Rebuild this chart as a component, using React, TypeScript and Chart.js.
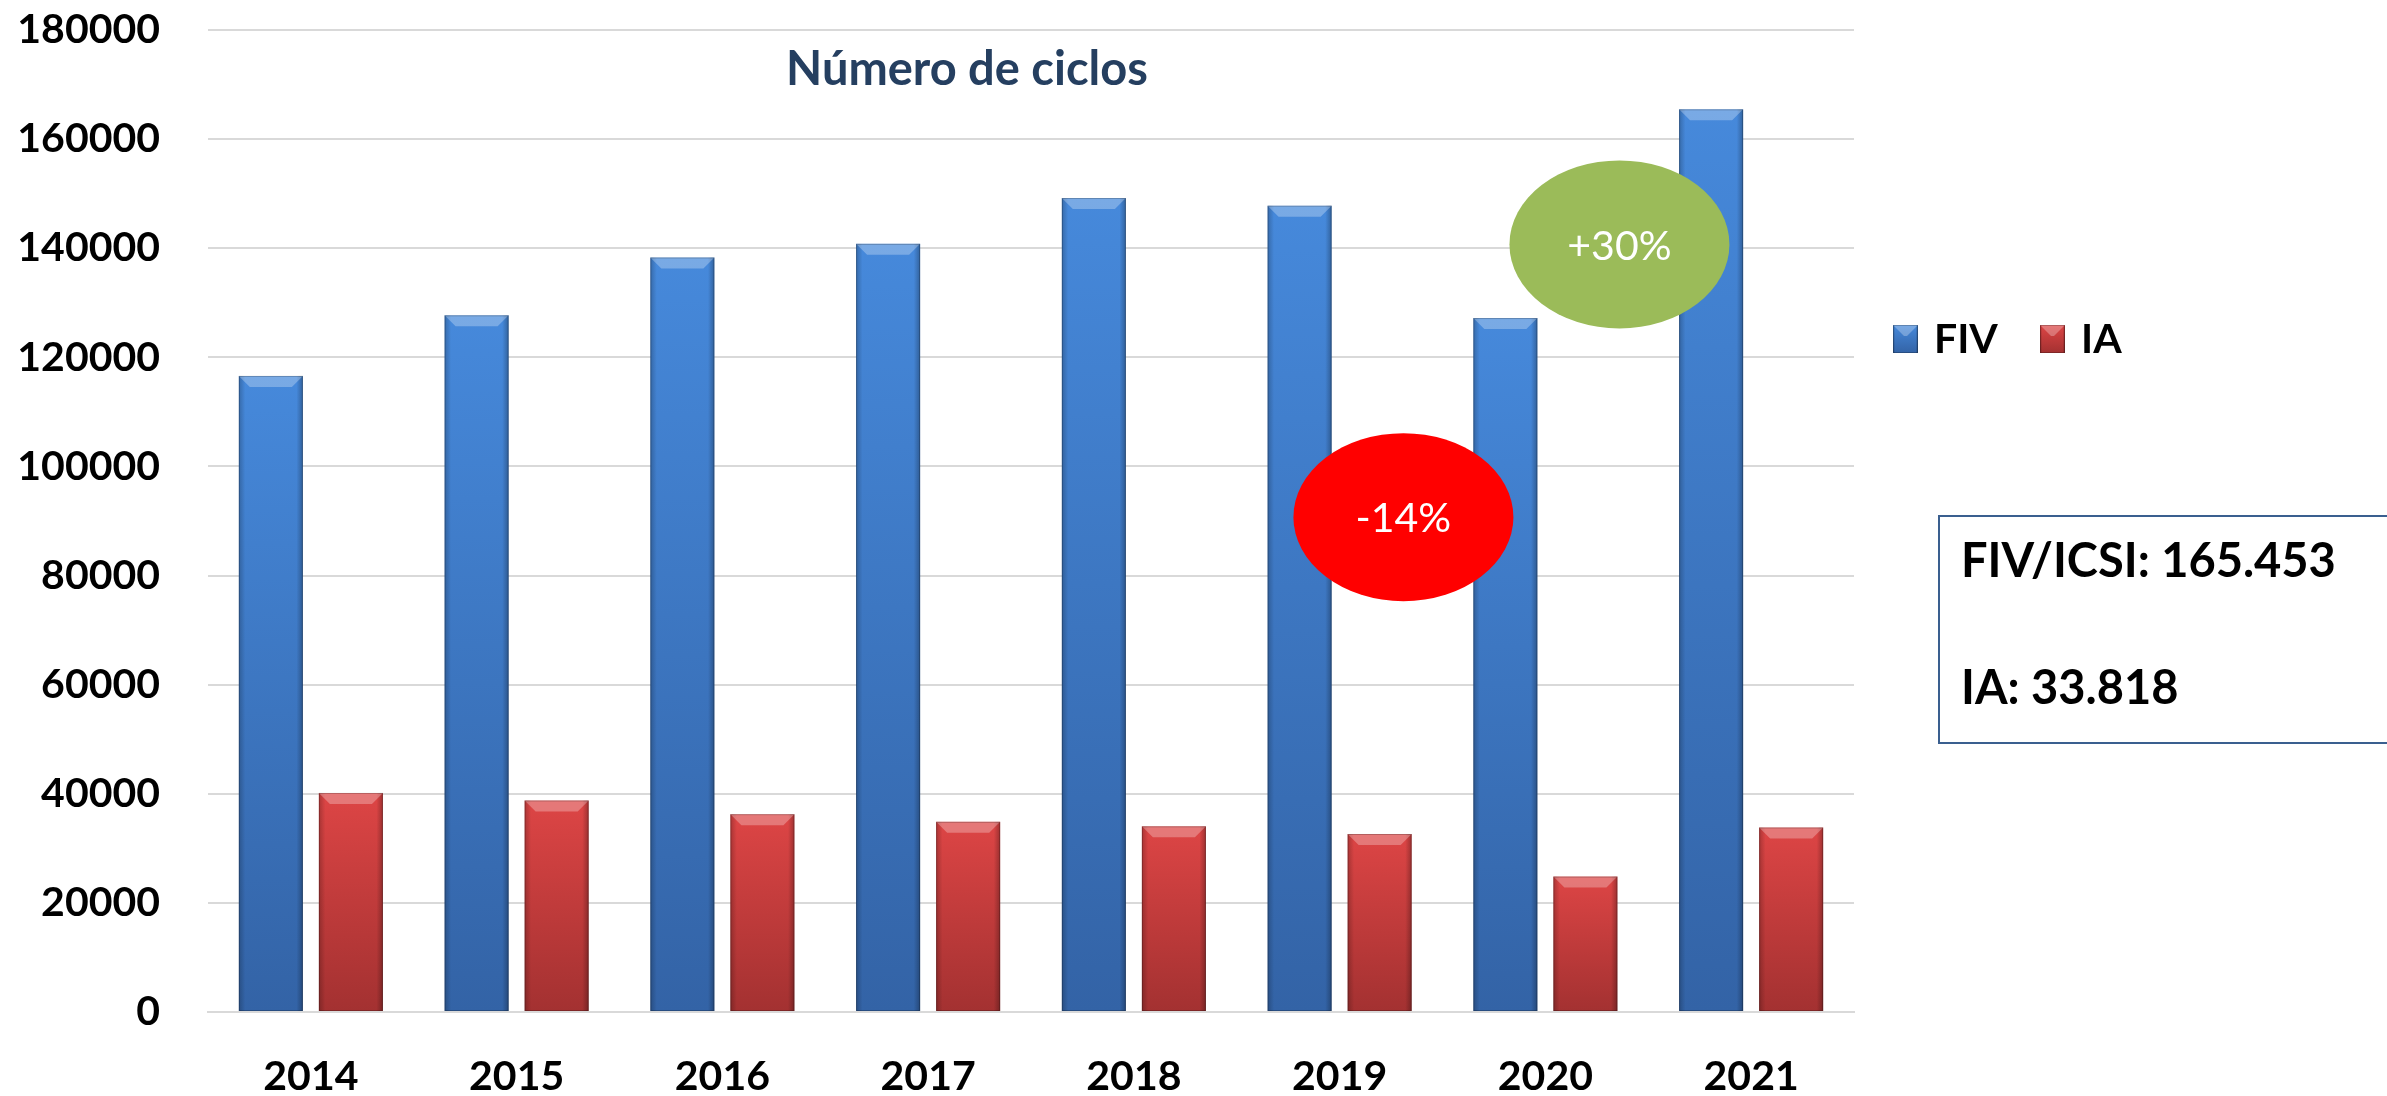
import React, { useEffect, useRef } from "react";
import { Chart, registerables } from "chart.js";

Chart.register(...registerables);

// ---- data ----
const categories = ["2014", "2015", "2016", "2017", "2018", "2019", "2020", "2021"];
const fivValues = [116600, 127700, 138300, 140800, 149200, 147800, 127200, 165453];
const iaValues = [40160, 38770, 36260, 34860, 34030, 32630, 24820, 33818];
const seriesNames = ["FIV", "IA"];
const yMax = 180000;
const yStep = 20000;
const chartTitle = "Número de ciclos";
const boxLines = ["FIV/ICSI: 165.453", "IA: 33.818"];
const bubbleLabels = ["-14%", "+30%"];

// ---- styling / annotation placement ----
const FONT = "Lato, 'Open Sans', sans-serif";
const blueTop = "#4689DB";
const blueBottom = "#3363A6";
const redTop = "#DD4545";
const redBottom = "#A33131";
const bubbles = [
  { text: bubbleLabels[0], idx: 5.31, val: 90700, rx: 110, ry: 84, color: "#FF0000" },
  { text: bubbleLabels[1], idx: 6.36, val: 140700, rx: 110, ry: 84, color: "#9BBB59" },
];

function barGradient(ctx: any, top: string, bottom: string) {
  const chart = ctx.chart;
  const y = chart.scales && chart.scales.y;
  if (!y || ctx.raw == null) return top;
  const y0 = y.getPixelForValue(ctx.raw);
  const y1 = y.getPixelForValue(0);
  if (!isFinite(y0) || !isFinite(y1) || y0 === y1) return top;
  const g = chart.ctx.createLinearGradient(0, y0, 0, y1);
  g.addColorStop(0, top);
  g.addColorStop(1, bottom);
  return g;
}

function drawBevelBar(c: CanvasRenderingContext2D, left: number, top: number, right: number, bottom: number) {
  const w = right - left;
  const b = Math.min(11, (bottom - top) / 2);
  c.save();
  const gl = c.createLinearGradient(left, 0, right, 0);
  gl.addColorStop(0, "rgba(0,0,0,0.22)");
  gl.addColorStop(0.1, "rgba(0,0,0,0.0)");
  gl.addColorStop(0.9, "rgba(0,0,0,0.0)");
  gl.addColorStop(1, "rgba(0,0,0,0.28)");
  c.fillStyle = gl;
  c.fillRect(left, top, w, bottom - top);
  c.beginPath();
  c.moveTo(left, top);
  c.lineTo(right, top);
  c.lineTo(right - b, top + b);
  c.lineTo(left + b, top + b);
  c.closePath();
  c.fillStyle = "rgba(255,255,255,0.28)";
  c.fill();
  c.strokeStyle = "rgba(0,0,0,0.22)";
  c.lineWidth = 1;
  c.strokeRect(left + 0.5, top + 0.5, w - 1, bottom - top - 1);
  c.restore();
}

const decorPlugin = {
  id: "decor",
  afterDatasetsDraw(chart: any) {
    const c: CanvasRenderingContext2D = chart.ctx;
    chart.data.datasets.forEach((_: any, di: number) => {
      const meta = chart.getDatasetMeta(di);
      meta.data.forEach((el: any) => {
        const p = el.getProps(["x", "y", "base", "width"], true);
        drawBevelBar(c, p.x - p.width / 2, p.y, p.x + p.width / 2, p.base);
      });
    });
  },
  afterDraw(chart: any) {
    const c: CanvasRenderingContext2D = chart.ctx;
    const xs = chart.scales.x;
    const ys = chart.scales.y;
    c.save();
    c.fillStyle = "#253F60";
    c.font = `bold 47px ${FONT}`;
    c.textAlign = "center";
    c.textBaseline = "alphabetic";
    c.fillText(chartTitle, 967, 85);

    bubbles.forEach((bb) => {
      const cx = xs.getPixelForValue(bb.idx);
      const cy = ys.getPixelForValue(bb.val);
      c.beginPath();
      c.ellipse(cx, cy, bb.rx, bb.ry, 0, 0, Math.PI * 2);
      c.fillStyle = bb.color;
      c.fill();
      c.fillStyle = "#FFFFFF";
      c.font = `41px ${FONT}`;
      c.textAlign = "center";
      c.textBaseline = "middle";
      c.fillText(bb.text, cx, cy + 2);
    });

    const legendItems = [
      { name: seriesNames[0], x: 1893, top: blueTop, bottom: blueBottom },
      { name: seriesNames[1], x: 2040, top: redTop, bottom: redBottom },
    ];
    legendItems.forEach((it) => {
      const bx = it.x, by = 325, bw = 25, bh = 28;
      const g = c.createLinearGradient(0, by, 0, by + bh);
      g.addColorStop(0, it.top);
      g.addColorStop(1, it.bottom);
      c.fillStyle = g;
      c.fillRect(bx, by, bw, bh);
      drawBevelBar(c, bx, by, bx + bw, by + bh);
      c.fillStyle = "#000000";
      c.font = `bold 41px ${FONT}`;
      c.textAlign = "left";
      c.textBaseline = "alphabetic";
      c.fillText(it.name, bx + 41, 353);
    });

    c.strokeStyle = "#3A5F8F";
    c.lineWidth = 2;
    c.strokeRect(1939, 516, 500, 227);
    c.fillStyle = "#000000";
    c.font = `bold 47px ${FONT}`;
    c.textAlign = "left";
    c.fillText(boxLines[0], 1961, 577);
    c.fillText(boxLines[1], 1961, 704);
    c.restore();
  },
};

export default function App() {
  const ref = useRef<HTMLCanvasElement>(null);
  useEffect(() => {
    if (!ref.current) return;
    const chart = new Chart(ref.current, {
      type: "bar",
      data: {
        labels: categories,
        datasets: [
          {
            label: seriesNames[0],
            data: fivValues,
            backgroundColor: (ctx: any) => barGradient(ctx, blueTop, blueBottom),
            categoryPercentage: 0.778,
            barPercentage: 0.8,
          },
          {
            label: seriesNames[1],
            data: iaValues,
            backgroundColor: (ctx: any) => barGradient(ctx, redTop, redBottom),
            categoryPercentage: 0.778,
            barPercentage: 0.8,
          },
        ],
      },
      options: {
        responsive: false,
        animation: false,
        layout: { padding: { top: 30, right: 533, left: 0, bottom: 0 } },
        plugins: {
          legend: { display: false },
          title: { display: false },
          tooltip: { enabled: false },
        },
        scales: {
          x: {
            grid: { display: false, drawTicks: false },
            border: { display: true, color: "#D9D9D9", width: 2 },
            ticks: {
              color: "#000000",
              font: { family: FONT, size: 41, weight: "bold" },
              padding: 40,
              maxRotation: 0,
            },
            afterFit: (s: any) => {
              s.height = 84;
              s.paddingLeft = 0;
              s.paddingRight = 0;
            },
          },
          y: {
            min: 0,
            max: yMax,
            grid: { color: "#D9D9D9", lineWidth: 2, drawTicks: false },
            border: { display: false },
            ticks: {
              stepSize: yStep,
              color: "#000000",
              font: { family: FONT, size: 41, weight: "bold" },
              padding: 48,
              callback: (v: any) => String(v),
            },
            afterFit: (s: any) => {
              s.width = 208;
              s.paddingTop = 0;
              s.paddingBottom = 0;
            },
          },
        },
      },
      plugins: [decorPlugin],
    });
    if ((document as any).fonts && (document as any).fonts.ready) {
      (document as any).fonts.ready.then(() => {
        try { chart.update(); } catch (e) {}
      });
    }
    return () => chart.destroy();
  }, []);
  return (
    <div style={{ position: "absolute", left: 0, top: 0, width: 2387, height: 1096, background: "#FFFFFF" }}>
      <canvas ref={ref} width={2387} height={1096} style={{ width: 2387, height: 1096, display: "block" }} />
    </div>
  );
}
